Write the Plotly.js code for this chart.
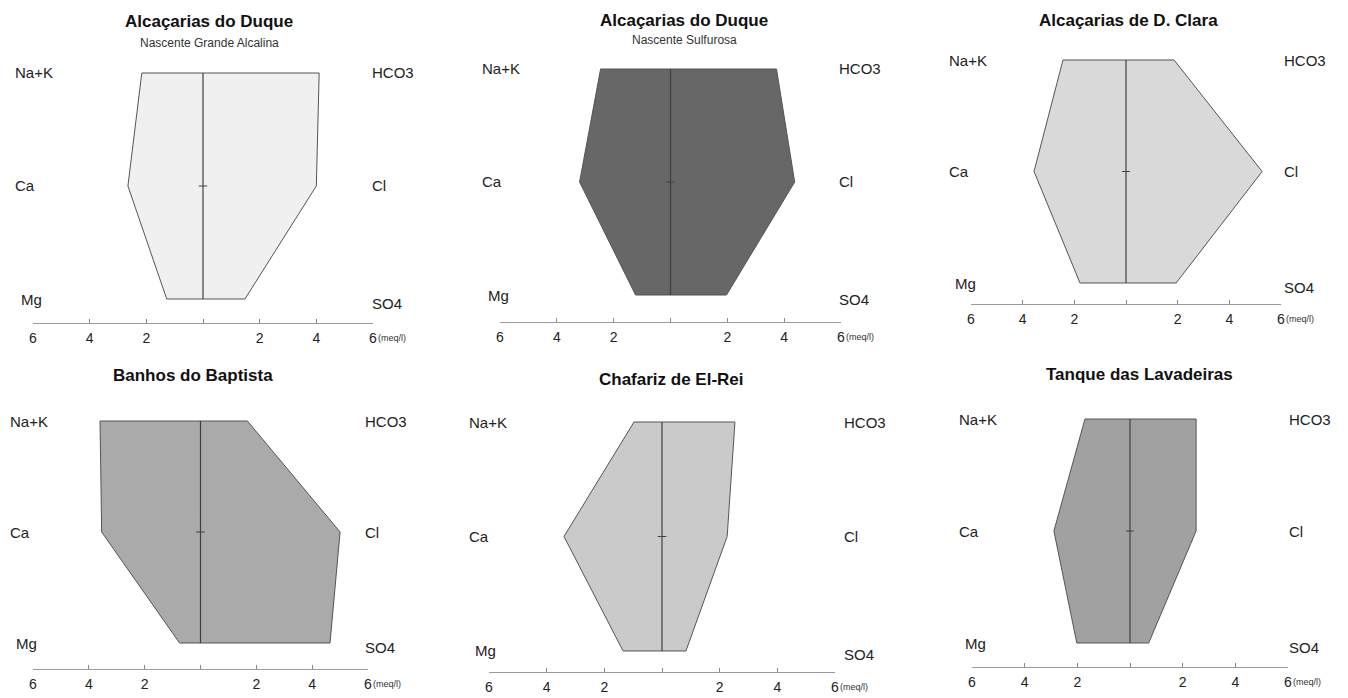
<!DOCTYPE html>
<html>
<head>
<meta charset="utf-8">
<script src="https://cdn.plot.ly/plotly-3.0.1.min.js"></script>
<style>html,body{margin:0;padding:0;background:#fff;}#chart{width:1348px;height:698px;}</style>
</head>
<body>
<div id="chart"></div>
<script>
// ---- data (meq/l) ----
const sites = ["Alcaçarias do Duque", "Alcaçarias do Duque", "Alcaçarias de D. Clara",
               "Banhos do Baptista", "Chafariz de El-Rei", "Tanque das Lavadeiras"];
const subtitles = ["Nascente Grande Alcalina", "Nascente Sulfurosa", "", "", "", ""];
const cationLabels = ["Na+K", "Ca", "Mg"];
const anionLabels = ["HCO3", "Cl", "SO4"];
const tickValues = [-6, -4, -2, 0, 2, 4, 6];
const tickLabels = ["6", "4", "2", "", "2", "4", "6"];
const unitLabel = "(meq/l)";
const naK  = [2.16, 2.46, 2.44, 3.60, 0.97, 1.71];
const ca   = [2.65, 3.20, 3.56, 3.54, 3.40, 2.89];
const mg   = [1.28, 1.23, 1.78, 0.75, 1.35, 2.02];
const hco3 = [4.10, 3.73, 1.86, 1.68, 2.53, 2.51];
const cl   = [4.00, 4.37, 5.27, 5.00, 2.26, 2.51];
const so4  = [1.48, 1.97, 1.94, 4.64, 0.83, 0.71];
const fills = ["#f0f0f0", "#676767", "#d9d9d9", "#aaaaaa", "#cacaca", "#a1a1a1"];
const rowValues = [3, 2, 1];

// ---- layout geometry (pixels) ----
const W = 1348, H = 698;
const geo = [
  {xl: 33,  xr: 373,  top: 73,  bot: 299, axis: 323, lx: 13,  rx: 370,  tx: 209,  ty: 21,  sy: 43},
  {xl: 500, xr: 841,  top: 69,  bot: 295, axis: 322, lx: 480, rx: 837,  tx: 684,  ty: 20,  sy: 40},
  {xl: 971, xr: 1281, top: 60,  bot: 283, axis: 304, lx: 947, rx: 1282, tx: 1128, ty: 20,  sy: 0},
  {xl: 33,  xr: 368,  top: 421, bot: 643, axis: 669, lx: 8,   rx: 363,  tx: 193,  ty: 375, sy: 0},
  {xl: 489, xr: 835,  top: 422, bot: 651, axis: 672, lx: 467, rx: 842,  tx: 671,  ty: 379, sy: 0},
  {xl: 972, xr: 1288, top: 419, bot: 643, axis: 667, lx: 957, rx: 1287, tx: 1139, ty: 374, sy: 0}
];
const FONT = "Liberation Sans, Arial, sans-serif";

const data = [];
const layout = {
  width: W, height: H, showlegend: false,
  margin: {l: 0, r: 0, t: 0, b: 0},
  paper_bgcolor: "#ffffff", plot_bgcolor: "rgba(0,0,0,0)",
  font: {family: FONT, color: "#222"},
  annotations: []
};

sites.forEach((name, i) => {
  const g = geo[i];
  const k = i === 0 ? "" : String(i + 1);
  const xa = "x" + k, ya = "y" + k;
  const s = (g.bot - g.top) / 2;
  const yMin = 1 - (g.axis - g.bot) / s;
  const yMax = 3.25;
  const topPx = g.top - 0.25 * s;

  layout["xaxis" + k] = {
    domain: [g.xl / W, g.xr / W], range: [-6, 6], anchor: ya,
    showline: true, linecolor: "#9a9a9a", linewidth: 1,
    ticks: "inside", ticklen: 4, tickcolor: "#8a8a8a", tickwidth: 1,
    tickmode: "array", tickvals: tickValues, ticktext: tickLabels,
    tickfont: {size: 14, color: "#222", family: FONT}, ticklabelstandoff: 2,
    showgrid: false, zeroline: false, fixedrange: true
  };
  layout["yaxis" + k] = {
    domain: [1 - g.axis / H, 1 - topPx / H], range: [yMin, yMax], anchor: xa,
    visible: false, showgrid: false, zeroline: false, fixedrange: true
  };

  // polygon
  data.push({
    type: "scatter", mode: "lines", xaxis: xa, yaxis: ya,
    x: [-naK[i], hco3[i], cl[i], so4[i], -mg[i], -ca[i], -naK[i]],
    y: [rowValues[0], rowValues[0], rowValues[1], rowValues[2], rowValues[2], rowValues[1], rowValues[0]],
    fill: "toself", fillcolor: fills[i],
    line: {color: "#555", width: 1}, hoverinfo: "skip"
  });
  // centre line
  data.push({
    type: "scatter", mode: "lines", xaxis: xa, yaxis: ya,
    x: [0, 0], y: [rowValues[2], rowValues[0]],
    line: {color: "#404040", width: 1.2}, hoverinfo: "skip"
  });
  // centre tick
  data.push({
    type: "scatter", mode: "lines", xaxis: xa, yaxis: ya,
    x: [-0.15, 0.15], y: [rowValues[1], rowValues[1]],
    line: {color: "#404040", width: 1}, hoverinfo: "skip"
  });

  // ion labels
  rowValues.forEach((rv, r) => {
    layout.annotations.push({
      xref: "paper", yref: ya, x: (g.lx + (r === 2 ? 6 : 0)) / W, y: rv,
      xanchor: "left", yanchor: "middle", showarrow: false,
      text: cationLabels[r], font: {size: 15, color: "#222", family: FONT}
    });
    layout.annotations.push({
      xref: "paper", yref: ya, x: g.rx / W, y: rv, yshift: r === 2 ? -4 : 0,
      xanchor: "left", yanchor: "middle", showarrow: false,
      text: anionLabels[r], font: {size: 15, color: "#222", family: FONT}
    });
  });

  // unit label
  layout.annotations.push({
    xref: xa, yref: ya, x: 6, y: yMin, xshift: 3, yshift: -15,
    xanchor: "left", yanchor: "middle", showarrow: false,
    text: unitLabel, font: {size: 9, color: "#333", family: FONT}
  });

  // titles
  layout.annotations.push({
    xref: "paper", yref: "paper", x: g.tx / W, y: 1 - g.ty / H,
    xanchor: "center", yanchor: "middle", showarrow: false,
    text: "<b>" + name + "</b>", font: {size: 17, color: "#111", family: FONT}
  });
  if (subtitles[i]) {
    layout.annotations.push({
      xref: "paper", yref: "paper", x: g.tx / W, y: 1 - g.sy / H,
      xanchor: "center", yanchor: "middle", showarrow: false,
      text: subtitles[i], font: {size: 12, color: "#333", family: FONT}
    });
  }
});

Plotly.newPlot("chart", data, layout, {staticPlot: true, displayModeBar: false});
</script>
</body>
</html>
